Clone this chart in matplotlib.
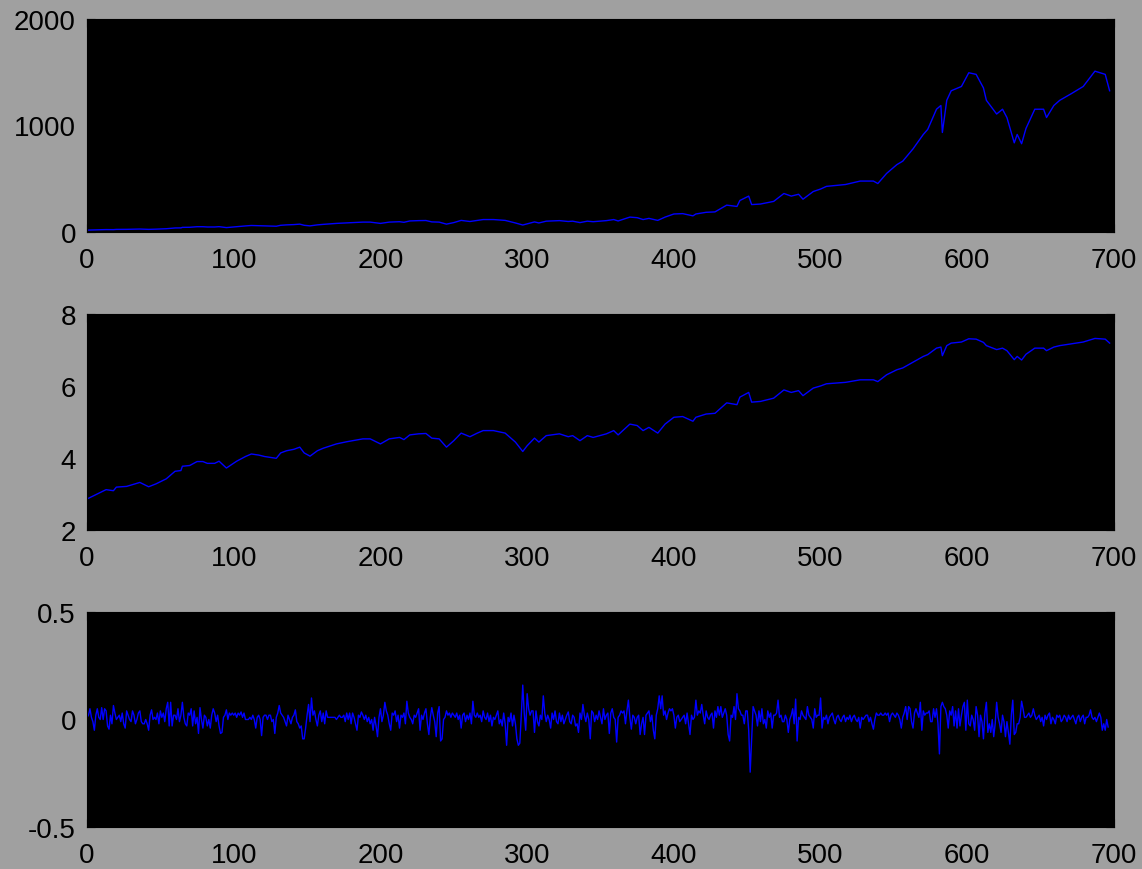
import numpy as np
import matplotlib
matplotlib.use("Agg")
import matplotlib.pyplot as plt

# log price (month index, value)
log_x = [0, 13, 18, 20, 27, 36, 42, 47, 54, 60, 64, 65, 70, 75, 79, 82, 87, 90, 95, 102,
         108, 112, 117, 121, 129, 132, 136, 141, 145, 148, 152, 157, 161, 170, 177, 188, 193, 200, 206, 213,
         216, 220, 226, 231, 235, 240, 245, 250, 255, 261, 266, 270, 277, 285, 292, 297, 300, 305, 308, 313,
         322, 328, 331, 336, 341, 345, 354, 359, 362, 370, 375, 379, 383, 389, 394, 400, 406, 413, 415, 422,
         428, 436, 443, 445, 451, 453, 459, 468, 475, 480, 485, 488, 495, 500, 504, 517, 527, 536, 539, 545,
         552, 556, 563, 570, 573, 579, 582, 583, 586, 589, 596, 601, 606, 611, 613, 620, 624, 627, 632, 634,
         637, 640, 646, 652, 654, 659, 663, 671, 679, 687, 694, 697]
log_y = [2.86, 3.12, 3.09, 3.19, 3.21, 3.32, 3.20, 3.28, 3.42, 3.63, 3.65, 3.77, 3.79, 3.90, 3.90, 3.85, 3.85, 3.91, 3.72, 3.91,
         4.04, 4.11, 4.08, 4.04, 3.99, 4.14, 4.20, 4.24, 4.30, 4.14, 4.05, 4.20, 4.27, 4.39, 4.45, 4.53, 4.53, 4.39, 4.53, 4.57,
         4.51, 4.64, 4.67, 4.68, 4.55, 4.53, 4.30, 4.48, 4.69, 4.59, 4.69, 4.76, 4.76, 4.69, 4.44, 4.18, 4.34, 4.55, 4.44, 4.62,
         4.67, 4.59, 4.62, 4.48, 4.62, 4.57, 4.67, 4.76, 4.64, 4.94, 4.90, 4.76, 4.85, 4.69, 4.94, 5.13, 5.15, 5.02, 5.13, 5.22,
         5.24, 5.53, 5.48, 5.69, 5.82, 5.55, 5.57, 5.66, 5.89, 5.82, 5.87, 5.73, 5.94, 6.00, 6.06, 6.10, 6.17, 6.17, 6.12, 6.31,
         6.45, 6.50, 6.66, 6.82, 6.87, 7.05, 7.08, 6.84, 7.12, 7.19, 7.22, 7.31, 7.30, 7.21, 7.12, 7.01, 7.05, 6.98, 6.73, 6.82,
         6.72, 6.88, 7.05, 7.05, 6.98, 7.08, 7.12, 7.17, 7.22, 7.32, 7.30, 7.19]
assert len(log_x) == len(log_y)

# top panel is the price itself
price = np.exp(log_y)

# monthly log returns
returns = [
    0.01, 0.02, 0.05, 0.01, -0.01, -0.05, 0.02, 0.05, 0.01, 0.00, 0.055, 0.00, 0.05, 0.04, -0.03, -0.045, 0.02, -0.02, 0.065, 0.03, 0.00, 0.01, 0.02, -0.01, 0.03,
    -0.02, -0.04, 0.04, 0.02, 0.00, -0.01, 0.04, 0.02, -0.02, 0.00, 0.03, 0.04, -0.01, -0.02, -0.02, 0.00, -0.02, -0.05, 0.02, 0.045, 0.00, 0.01, 0.00, 0.03, -0.02,
    0.04, 0.01, 0.03, -0.01, 0.05, 0.08, -0.03, 0.08, -0.03, 0.02, 0.02, 0.00, 0.05, -0.01, 0.02, 0.08, 0.01, -0.02, -0.03, 0.03, 0.02, 0.05, -0.03, 0.04, -0.02,
    0.01, -0.065, 0.055, 0.00, -0.04, 0.02, 0.01, -0.03, 0.00, -0.04, 0.02, 0.05, 0.03, -0.01, 0.02, -0.03, -0.065, -0.06, 0.01, 0.02, 0.045, 0.00, 0.03, 0.02, 0.03,
    0.02, 0.03, 0.01, 0.03, 0.02, 0.035, 0.01, 0.03, 0.00, 0.00, 0.00, 0.01, 0.00, 0.02, 0.00, -0.04, 0.01, 0.02, 0.00, -0.075, 0.01, 0.02, 0.02, 0.00, 0.02,
    0.02, -0.01, 0.00, -0.065, 0.01, 0.03, 0.065, 0.03, 0.02, 0.01, -0.01, -0.03, 0.02, 0.00, -0.02, 0.01, 0.02, 0.045, -0.01, -0.02, -0.04, -0.03, -0.09, -0.09, -0.04,
    0.02, 0.07, -0.01, 0.10, 0.02, 0.04, 0.00, -0.03, 0.02, 0.04, -0.01, 0.03, -0.02, 0.04, 0.01, 0.01, 0.01, 0.01, 0.01, 0.01, 0.00, 0.01, 0.02, 0.01, 0.01,
    0.02, -0.01, 0.03, 0.00, 0.03, -0.02, 0.03, 0.01, -0.02, -0.05, 0.02, 0.01, 0.035, 0.02, 0.00, 0.02, -0.01, 0.01, -0.02, 0.00, -0.05, 0.01, -0.03, -0.08, 0.01,
    0.05, -0.01, 0.02, 0.08, 0.04, 0.02, -0.02, -0.05, 0.03, 0.02, 0.04, -0.01, 0.02, -0.04, 0.02, 0.01, 0.03, -0.02, 0.085, 0.03, 0.01, 0.00, -0.02, 0.02, 0.01,
    0.03, 0.05, -0.05, 0.02, 0.00, 0.03, 0.05, -0.02, -0.07, 0.01, 0.055, 0.02, -0.01, -0.08, 0.03, 0.06, -0.10, -0.09, 0.00, 0.01, 0.04, 0.02, 0.03, 0.01, 0.03,
    0.02, 0.01, 0.03, 0.00, 0.02, -0.04, 0.02, 0.03, -0.01, 0.02, 0.00, 0.03, -0.02, 0.085, 0.02, 0.01, 0.03, 0.01, 0.02, -0.01, 0.04, 0.01, 0.00, 0.03, -0.01,
    0.02, -0.03, 0.01, 0.00, 0.02, 0.04, -0.02, 0.00, -0.03, 0.03, -0.02, -0.12, 0.01, -0.01, 0.03, -0.03, 0.02, -0.02, -0.09, -0.12, -0.11, 0.02, 0.16, 0.03, -0.05,
    0.12, 0.05, 0.02, 0.04, 0.04, -0.06, 0.04, -0.01, -0.03, 0.02, 0.00, 0.11, 0.03, -0.01, 0.02, 0.00, -0.04, 0.03, 0.00, 0.04, -0.01, -0.02, 0.03, -0.01, 0.02,
    -0.02, 0.00, 0.02, 0.035, -0.01, -0.02, 0.02, 0.01, -0.03, -0.02, -0.06, 0.03, 0.00, 0.07, 0.02, -0.01, 0.03, 0.00, -0.09, 0.04, 0.03, -0.01, 0.02, 0.00, 0.04,
    0.01, -0.02, 0.05, 0.00, 0.02, 0.03, -0.065, 0.03, 0.05, 0.01, 0.00, -0.105, 0.01, 0.02, 0.04, 0.03, 0.04, -0.02, 0.04, 0.09, 0.01, -0.045, 0.02, 0.01, -0.02,
    0.01, 0.02, -0.07, -0.02, 0.01, -0.07, 0.02, 0.03, 0.04, -0.01, 0.02, -0.05, -0.09, 0.02, 0.05, 0.11, 0.05, 0.11, 0.02, 0.04, 0.00, 0.03, 0.05, 0.04, 0.05,
    0.02, -0.04, 0.01, 0.02, -0.01, 0.00, 0.01, 0.02, -0.02, 0.03, -0.02, -0.07, 0.02, 0.00, 0.01, 0.09, 0.02, 0.04, 0.03, 0.07, 0.02, -0.02, 0.04, 0.01, 0.00,
    0.02, 0.03, -0.04, 0.04, 0.01, 0.06, 0.02, 0.06, 0.01, 0.03, 0.05, 0.02, -0.07, -0.10, 0.02, 0.01, 0.06, 0.00, 0.12, 0.05, 0.04, 0.02, 0.02, -0.02, 0.04,
    0.04, -0.05, -0.245, -0.09, 0.06, 0.04, 0.02, -0.03, 0.04, -0.01, 0.05, -0.02, 0.00, -0.04, 0.04, 0.01, 0.03, -0.04, 0.02, 0.02, 0.03, 0.09, 0.01, 0.02, -0.01,
    -0.01, 0.02, 0.00, -0.06, 0.00, 0.02, 0.05, -0.02, 0.095, -0.10, 0.01, 0.00, 0.04, 0.02, 0.01, 0.00, 0.06, 0.02, 0.01, 0.00, -0.04, 0.05, 0.01, 0.02, 0.02,
    0.10, -0.04, 0.01, 0.00, 0.02, -0.02, 0.01, 0.02, 0.03, 0.00, -0.02, 0.01, 0.02, 0.00, -0.01, 0.01, 0.02, -0.01, 0.01, 0.00, 0.02, -0.01, 0.01, 0.02, 0.00,
    -0.01, 0.01, -0.04, 0.01, 0.00, 0.01, 0.02, 0.02, -0.01, 0.01, -0.02, -0.045, 0.00, 0.03, 0.02, 0.02, 0.03, 0.02, 0.02, 0.03, 0.02, 0.03, -0.01, 0.02, 0.03,
    0.02, 0.01, 0.03, 0.02, 0.00, -0.04, 0.01, 0.03, 0.06, 0.00, 0.06, 0.05, -0.01, -0.04, 0.03, 0.05, 0.03, 0.01, 0.08, -0.05, 0.04, 0.02, 0.03, 0.03, 0.04,
    -0.01, -0.01, 0.05, 0.01, 0.05, -0.02, -0.16, 0.06, 0.08, 0.06, 0.05, 0.02, -0.04, 0.04, 0.02, 0.06, -0.03, 0.04, -0.04, 0.05, -0.03, 0.02, 0.06, 0.08, -0.05,
    0.09, -0.02, -0.03, 0.02, 0.00, -0.05, 0.06, 0.02, -0.08, 0.02, -0.01, -0.09, 0.03, 0.08, -0.06, -0.02, -0.06, 0.00, -0.08, -0.02, 0.08, 0.01, -0.02, -0.06, 0.02,
    -0.01, -0.08, -0.01, -0.06, -0.115, 0.02, 0.09, -0.07, -0.06, -0.02, -0.02, 0.01, 0.085, 0.05, 0.01, 0.01, 0.02, 0.03, 0.01, 0.02, 0.05, 0.02, 0.00, 0.01, 0.02,
    -0.01, 0.01, -0.03, 0.02, 0.00, 0.02, 0.03, -0.02, 0.01, 0.00, -0.02, 0.02, 0.01, 0.02, -0.01, 0.00, 0.02, 0.01, -0.01, 0.02, 0.00, 0.01, 0.02, 0.00, -0.02,
    0.01, 0.02, -0.01, 0.01, 0.02, -0.02, 0.01, 0.01, 0.02, 0.045, 0.01, 0.00, 0.01, -0.01, 0.01, 0.03, 0.01, -0.05, -0.02, -0.05, 0.00, -0.035,
]
ret_x = np.arange(len(returns))

x_ticks = [0, 100, 200, 300, 400, 500, 600, 700]
panels = [
    (log_x, price, [0, 2000], [0, 1000, 2000], ["0", "1000", "2000"]),
    (log_x, log_y, [2, 8], [2, 4, 6, 8], ["2", "4", "6", "8"]),
    (ret_x, returns, [-0.5, 0.5], [-0.5, 0, 0.5], ["-0.5", "0", "0.5"]),
]

plt.rcParams['font.family'] = ['Liberation Sans', 'DejaVu Sans']
fig = plt.figure(figsize=(11.42, 8.70), dpi=100, facecolor='#a0a0a0')

boxes = [
    [0.0762, 0.7322, 0.8993, 0.2448],
    [0.0762, 0.3897, 0.8993, 0.2483],
    [0.0762, 0.0483, 0.8993, 0.2471],
]

for box, (xs, ys, ylim, yt, ytl) in zip(boxes, panels):
    ax = fig.add_axes(box)
    ax.set_facecolor('black')
    ax.plot(xs, ys, color='#0000ff', lw=1.0)
    ax.set_xlim(0, 700)
    ax.set_ylim(*ylim)
    ax.set_xticks(x_ticks)
    ax.set_xticklabels([str(t) for t in x_ticks])
    ax.set_yticks(yt)
    ax.set_yticklabels(ytl)
    ax.tick_params(axis='both', labelsize=20, colors='black', direction='in', length=6)
    ax.tick_params(axis='x', pad=11, top=True)
    ax.tick_params(axis='y', pad=8, right=True)
    for s in ax.spines.values():
        s.set_color('black')

fig.savefig('out.png', dpi=100, facecolor=fig.get_facecolor())
